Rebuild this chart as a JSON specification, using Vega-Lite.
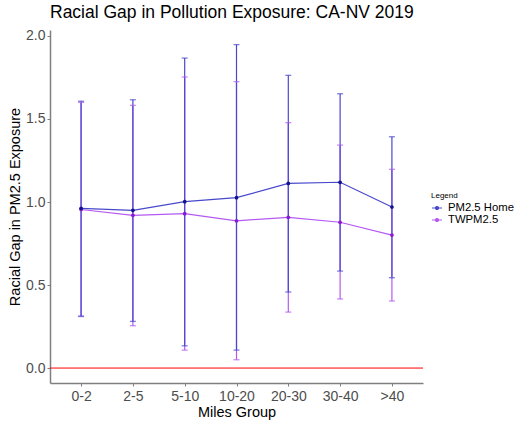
{
  "$schema": "https://vega.github.io/schema/vega-lite/v6.json",
  "width": 373,
  "height": 353,
  "autosize": "none",
  "padding": {"left": 50, "top": 30, "right": 98, "bottom": 38},
  "background": "white",
  "title": {
    "text": "Racial Gap in Pollution Exposure: CA-NV 2019",
    "anchor": "start",
    "frame": "group",
    "font": "Liberation Sans",
    "fontSize": 17.5,
    "fontWeight": "normal",
    "color": "#000000",
    "offset": 7
  },
  "config": {
    "view": {"stroke": null},
    "axis": {
      "labelFont": "Liberation Sans",
      "titleFont": "Liberation Sans",
      "labelFontSize": 14,
      "labelColor": "#4d4d4d",
      "titleFontSize": 14.5,
      "titleFontWeight": "normal",
      "titleColor": "#000000",
      "domainColor": "#7f7f7f",
      "domainWidth": 1.5,
      "tickColor": "#7f7f7f",
      "tickSize": 3,
      "grid": false
    }
  },
  "data": {
    "values": [
      {"group": "0-2", "series": "TWPM2.5", "mean": 0.955, "lo": 0.31, "hi": 1.6},
      {"group": "2-5", "series": "TWPM2.5", "mean": 0.92, "lo": 0.255, "hi": 1.582},
      {"group": "5-10", "series": "TWPM2.5", "mean": 0.93, "lo": 0.108, "hi": 1.753},
      {"group": "10-20", "series": "TWPM2.5", "mean": 0.887, "lo": 0.05, "hi": 1.725},
      {"group": "20-30", "series": "TWPM2.5", "mean": 0.908, "lo": 0.337, "hi": 1.478},
      {"group": "30-40", "series": "TWPM2.5", "mean": 0.878, "lo": 0.416, "hi": 1.343},
      {"group": ">40", "series": "TWPM2.5", "mean": 0.801, "lo": 0.404, "hi": 1.197},
      {"group": "0-2", "series": "PM2.5 Home", "mean": 0.962, "lo": 0.313, "hi": 1.607},
      {"group": "2-5", "series": "PM2.5 Home", "mean": 0.95, "lo": 0.281, "hi": 1.616},
      {"group": "5-10", "series": "PM2.5 Home", "mean": 1.002, "lo": 0.134, "hi": 1.867},
      {"group": "10-20", "series": "PM2.5 Home", "mean": 1.026, "lo": 0.108, "hi": 1.948},
      {"group": "20-30", "series": "PM2.5 Home", "mean": 1.112, "lo": 0.458, "hi": 1.763},
      {"group": "30-40", "series": "PM2.5 Home", "mean": 1.119, "lo": 0.584, "hi": 1.652},
      {"group": ">40", "series": "PM2.5 Home", "mean": 0.97, "lo": 0.544, "hi": 1.393}
    ]
  },
  "encoding": {
    "x": {
      "field": "group",
      "type": "ordinal",
      "sort": ["0-2", "2-5", "5-10", "10-20", "20-30", "30-40", ">40"],
      "scale": {"type": "point", "padding": 0.6},
      "axis": {"title": "Miles Group", "labelAngle": 0, "labelPadding": 3, "titlePadding": 2}
    },
    "color": {
      "field": "series",
      "type": "nominal",
      "sort": ["PM2.5 Home", "TWPM2.5"],
      "scale": {"domain": ["PM2.5 Home", "TWPM2.5"], "range": ["#4848cc", "#b45af2"]},
      "legend": {
        "title": "Legend",
        "orient": "none",
        "legendX": 381,
        "legendY": 162,
        "titleFont": "Liberation Sans",
        "titleFontSize": 8,
        "titleFontWeight": "normal",
        "titleColor": "#000000",
        "titlePadding": 2,
        "labelFont": "Liberation Sans",
        "labelFontSize": 11.3,
        "labelColor": "#000000",
        "rowPadding": 0,
        "symbolType": "M-1,0L1,0M-0.3,0A0.3,0.3 0 1,1 0.3,0A0.3,0.3 0 1,1 -0.3,0",
        "symbolSize": 100,
        "symbolStrokeWidth": 1.2,
        "symbolOpacity": 1,
        "labelOffset": 5
      }
    }
  },
  "layer": [
    {
      "mark": {"type": "rule", "color": "#ff0000", "strokeWidth": 1},
      "data": {"values": [{"zero": 0}]},
      "encoding": {"y": {"field": "zero", "type": "quantitative"}, "x": null, "color": null}
    },
    {
      "mark": {"type": "rule", "strokeWidth": 1.2},
      "encoding": {
        "y": {
          "field": "lo",
          "type": "quantitative",
          "scale": {"domain": [-0.09, 2.036], "nice": false, "zero": false},
          "axis": {"title": "Racial Gap in PM2.5 Exposure", "values": [0, 0.5, 1, 1.5, 2], "format": ".1f", "labelPadding": 2, "titlePadding": 3}
        },
        "y2": {"field": "hi"}
      }
    },
    {
      "mark": {"type": "tick", "size": 6, "thickness": 1.3},
      "encoding": {"y": {"field": "lo", "type": "quantitative"}}
    },
    {
      "mark": {"type": "tick", "size": 6, "thickness": 1.3},
      "encoding": {"y": {"field": "hi", "type": "quantitative"}}
    },
    {
      "mark": {"type": "line", "strokeWidth": 1.2},
      "encoding": {"y": {"field": "mean", "type": "quantitative"}}
    },
    {
      "mark": {"type": "circle", "size": 14, "opacity": 1},
      "encoding": {
        "y": {"field": "mean", "type": "quantitative"},
        "color": null,
        "fill": {
          "field": "series",
          "type": "nominal",
          "scale": {"domain": ["PM2.5 Home", "TWPM2.5"], "range": ["#12128c", "#8a1ad6"]},
          "legend": null
        }
      }
    }
  ]
}
